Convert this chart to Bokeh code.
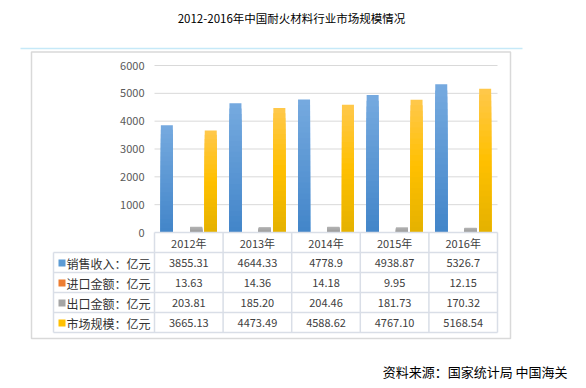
from bokeh.plotting import figure
from bokeh.models import Range1d, ColumnDataSource
from bokeh.core.properties import value
from bokeh.embed import file_html
from bokeh.resources import INLINE

# ---------------- data ----------------
title_text = "2012-2016年中国耐火材料行业市场规模情况"
source_note = "资料来源：国家统计局  中国海关"
years = ["2012年", "2013年", "2014年", "2015年", "2016年"]
series_names = ["销售收入：亿元", "进口金额：亿元", "出口金额：亿元", "市场规模：亿元"]
sales = ["3855.31", "4644.33", "4778.9", "4938.87", "5326.7"]
imports = ["13.63", "14.36", "14.18", "9.95", "12.15"]
exports = ["203.81", "185.20", "204.46", "181.73", "170.32"]
market = ["3665.13", "4473.49", "4588.62", "4767.10", "5168.54"]
y_ticks = [0, 1000, 2000, 3000, 4000, 5000, 6000]

# ---------------- styling / layout ----------------
FONT = value("Noto Sans CJK SC")
W, H = 578, 380
OFF = 0                      # canvas origin in screen pixels
X0, COLW = 154.0, 68.6       # screen x of first column, column width
Y0, YPX, YMAX = 232.0, 167.0, 6000.0

def X(sx):
    return (sx - X0) / COLW

def Y(sy):
    return (Y0 - sy) * YMAX / YPX

legend_colors = ["#5b9bd5", "#ed7d31", "#a5a5a5", "#ffc000"]
stops = [
    [(0.0, "#4285c9"), (1.0, "#76aadf")],
    [(0.0, "#ed7d31"), (1.0, "#ed7d31")],
    [(0.0, "#9a9a9a"), (1.0, "#b4b4b4")],
    [(0.0, "#e4b100"), (0.5, "#ffc000"), (1.0, "#ffc84c")],
]
offsets = [-0.32, -0.107, 0.107, 0.32]
BW = 0.175

def hex2rgb(h):
    return tuple(int(h[i:i + 2], 16) for i in (1, 3, 5))

def interp(st, t):
    for (t0, c0), (t1, c1) in zip(st[:-1], st[1:]):
        if t <= t1:
            f = 0 if t1 == t0 else (t - t0) / (t1 - t0)
            a, b = hex2rgb(c0), hex2rgb(c1)
            return "#%02x%02x%02x" % tuple(round(a[i] + (b[i] - a[i]) * f) for i in range(3))
    return st[-1][1]

p = figure(width=W, height=H, x_range=Range1d(X(OFF), X(OFF + W)),
           y_range=Range1d(Y(OFF + H), Y(OFF)),
           x_axis_type=None, y_axis_type=None, min_border=0,
           toolbar_location=None, output_backend="svg")
p.outline_line_color = None
p.grid.visible = False
p.background_fill_color = "white"
p.border_fill_color = "white"

# title
p.text(x=[X(291)], y=[Y(17)], text=[title_text], text_font=FONT,
       text_font_size="11.5px", text_align="center", text_baseline="middle",
       text_color="#000000")

# light blue separator and chart frame
p.segment(x0=[X(20)], y0=[Y(48)], x1=[X(522)], y1=[Y(48)],
          line_color="#c6e9f8", line_width=1.5)
p.quad(left=[X(31)], right=[X(510)], top=[Y(51.5)], bottom=[Y(338)],
       fill_color=None, line_color="#d9d9d9", line_width=1.5)

# gridlines
gl = [t for t in y_ticks if t > 0]
p.segment(x0=[0] * len(gl), y0=gl, x1=[len(years)] * len(gl), y1=gl,
          line_color="#d9d9d9", line_width=1)

# y tick labels
p.text(x=[X(144)] * len(y_ticks), y=y_ticks, text=[str(t) for t in y_ticks],
       text_font=FONT, text_font_size="11px", text_align="right",
       text_baseline="middle", text_color="#595959")

# bars with vertical gradients (stacked slices, tallest first)
N = 24
all_series = [sales, imports, exports, market]
for k, ser in enumerate(all_series):
    vals = [float(s) for s in ser]
    xs, tops, cols = [], [], []
    for j in reversed(range(N)):
        frac = (j + 1) / N
        c = interp(stops[k], (j + 0.5) / N)
        for i, v in enumerate(vals):
            xs.append(i + 0.5 + offsets[k])
            tops.append(v * frac)
            cols.append(c)
    src = ColumnDataSource(dict(x=xs, top=tops, c=cols))
    p.vbar(x="x", top="top", bottom=0, width=BW, fill_color="c",
           line_color=None, source=src)

# data table lines
TL = "#d9dee7"
rows_y = [252, 272, 292, 312, 332]
ncol = len(years)
xs0 = [X(53)] * len(rows_y)
p.segment(x0=xs0, y0=[Y(r) for r in rows_y], x1=[ncol] * len(rows_y),
          y1=[Y(r) for r in rows_y], line_color=TL, line_width=1.5)
p.segment(x0=[0], y0=[0], x1=[ncol], y1=[0], line_color=TL, line_width=1.5)
p.segment(x0=list(range(ncol + 1)), y0=[0] * (ncol + 1),
          x1=list(range(ncol + 1)), y1=[Y(332)] * (ncol + 1),
          line_color=TL, line_width=1.5)
p.segment(x0=[X(53)], y0=[Y(252)], x1=[X(53)], y1=[Y(332)],
          line_color=TL, line_width=1.5)

# header row
p.text(x=[i + 0.5 for i in range(ncol)], y=[Y(242.5)] * ncol, text=years,
       text_font=FONT, text_font_size="11px", text_align="center",
       text_baseline="middle", text_color="#404040")

# legend rows + values
for k, ser in enumerate(all_series):
    yc = Y(262.5 + 20 * k)
    p.scatter(x=[X(61.5)], y=[yc], marker="square", size=7,
              fill_color=legend_colors[k], line_color=None)
    p.text(x=[X(66)], y=[yc], text=[series_names[k]], text_font=FONT,
           text_font_size="12px", text_align="left", text_baseline="middle",
           text_color="#333333")
    p.text(x=[i + 0.5 for i in range(ncol)], y=[yc] * ncol, text=ser,
           text_font=FONT, text_font_size="11px", text_align="center",
           text_baseline="middle", text_color="#404040")

# source note
p.text(x=[X(570)], y=[Y(371)], text=[source_note], text_font=FONT,
       text_font_size="13px", text_align="right", text_baseline="middle",
       text_color="#000000")

open("out.html", "w").write(file_html(p, INLINE))
